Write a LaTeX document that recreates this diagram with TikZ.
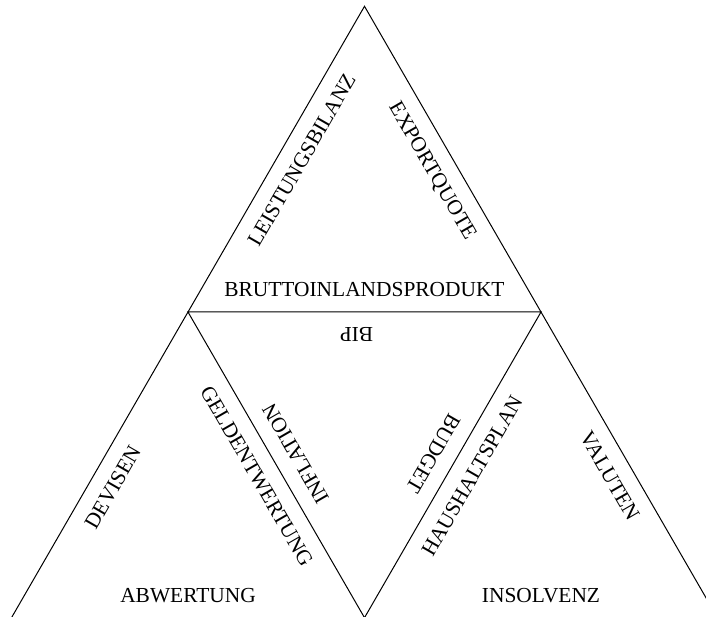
\documentclass[tikz,border=0pt]{standalone}
\usepackage{fontspec}
\setmainfont{Liberation Serif}
\usetikzlibrary{calc}
\begin{document}
\begin{tikzpicture}[x=1pt,y=1pt,
  edge/.style={line width=1pt, line join=miter, line cap=butt},
  lbl/.style={font=\fontsize{21.4}{25}\selectfont, inner sep=0pt}]
\useasboundingbox (0,0) rectangle (706,616);
\clip (0,0) rectangle (706,616);
% corners of the large triangle and of its four parts
\coordinate (A)  at (364.5,609.7);
\coordinate (L)  at (188,304);
\coordinate (R)  at (541,304);
\coordinate (BL) at (11.5,-1.7);
\coordinate (BM) at (364.5,-1.7);
\coordinate (BR) at (717.5,-1.7);
% outline and inner cuts
\draw[edge] (BL) -- (A) -- (BR) -- cycle;
\draw[edge] (L) -- (R) -- (BM) -- cycle;
% labels along the edges
\def\gap{15}
\node[lbl, anchor=north, rotate=60]  (t1)  at ($(A)!0.5!(L)+(-30:\gap)+(60:12)$) {LEISTUNGSBILANZ};
\node[lbl, anchor=north, rotate=-60] (t2)  at ($(A)!0.5!(R)+(210:\gap)$) {EXPORTQUOTE};
\node[lbl, anchor=south]             (t3)  at ($(L)!0.5!(R)+(90:\gap)$) {BRUTTOINLANDSPRODUKT};
\node[lbl, anchor=south, rotate=180] (t4)  at ($(L)!0.5!(R)+(-90:\gap)+(-8,0)$) {BIP};
\node[lbl, anchor=north, rotate=60]  (t5)  at ($(BL)!0.5!(L)+(-30:\gap)+(240:13)$) {DEVISEN};
\node[lbl, anchor=north, rotate=-60] (t6)  at ($(L)!0.5!(BM)+(210:\gap)$) {GELDENTWERTUNG};
\node[lbl, anchor=north, rotate=120] (t7)  at ($(L)!0.5!(BM)+(30:\gap)$) {INFLATION};
\node[lbl, anchor=south]             (t8)  at ($(BL)!0.5!(BM)+(90:\gap)$) {ABWERTUNG};
\node[lbl, anchor=north, rotate=-120] (t9) at ($(R)!0.5!(BM)+(150:\gap)$) {BUDGET};
\node[lbl, anchor=north, rotate=60]  (t10) at ($(R)!0.5!(BM)+(-30:\gap)$) {HAUSHALTSPLAN};
\node[lbl, anchor=north, rotate=-60] (t11) at ($(R)!0.5!(BR)+(210:\gap)$) {VALUTEN};
\node[lbl, anchor=south]             (t12) at ($(BM)!0.5!(BR)+(90:\gap)$) {INSOLVENZ};
\end{tikzpicture}
\end{document}
